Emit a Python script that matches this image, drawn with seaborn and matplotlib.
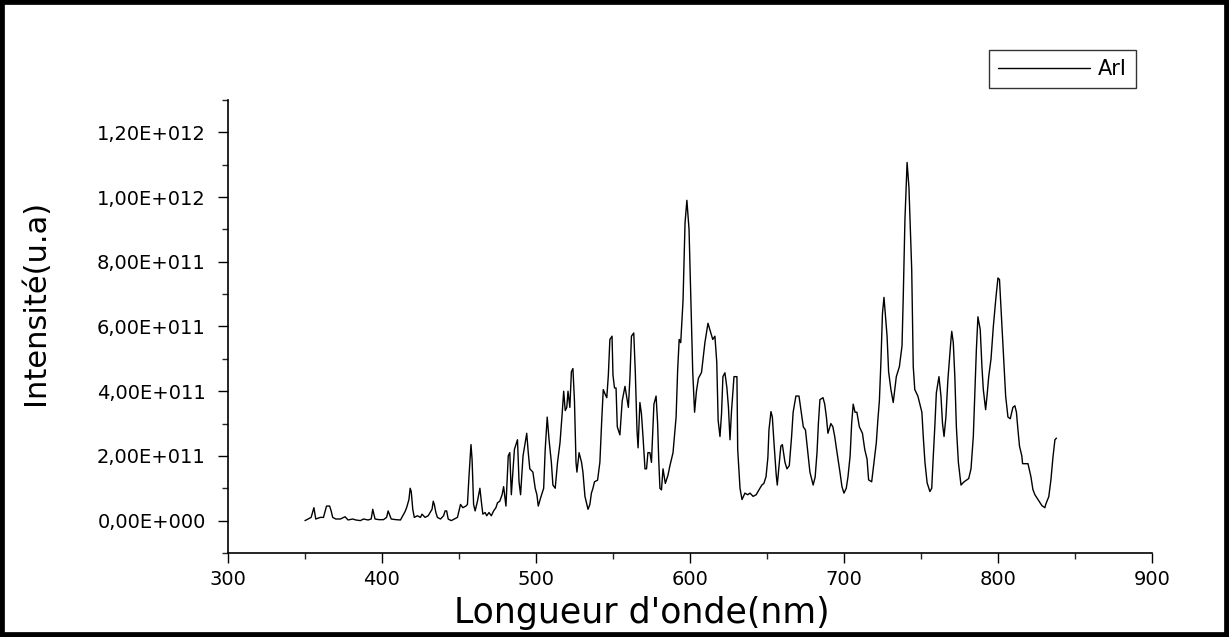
import numpy as np
import pandas as pd
import matplotlib
matplotlib.use("Agg")
import matplotlib.pyplot as plt
from matplotlib.ticker import MultipleLocator, FuncFormatter
from matplotlib.patches import Rectangle
import seaborn as sns

# spectrum (intensity in units of 1e11)
wavelength = [
    350, 352, 354, 355.8, 357, 360, 362, 364, 366, 367, 368, 370, 373, 376, 378,
    381, 383, 386, 388, 391, 393, 394, 395.5, 398, 401, 403, 404, 406, 409, 412,
    415, 416, 417.5, 418.3, 419, 420, 421, 423, 425, 426, 428, 430, 432.5, 433.3,
    434, 435, 436, 438, 440, 441, 442, 443, 445, 447, 449, 450, 451, 452.5, 454.5,
    455.5, 456.5, 457.8, 458.5, 459.5, 460.5, 462, 463.6, 464.5, 465.5, 467, 468,
    469.5, 471, 472.5, 474, 475, 476.5, 478, 479, 480.5, 482, 483, 484, 486, 488,
    489, 490, 491.6, 494, 495, 496, 498, 499.5, 500.6, 501.5, 503, 505, 506, 507.3,
    508.5, 510, 511, 512.5, 514, 515.6, 517, 518, 519, 520, 520.8, 522, 523, 524,
    525, 526, 526.6, 528, 529.6, 530.5, 531.8, 533.8, 535, 536, 537, 538, 540,
    541.5, 542.8, 543.7, 545, 546, 547, 548, 549.4, 550, 551, 552, 552.8, 554.5,
    556, 557.8, 559, 560, 561, 562, 563.5, 564.5, 565.6, 566.3, 567.5, 568.5,
    569.5, 570.8, 571.8, 572.7, 574, 575, 576.6, 578, 579, 579.7, 580.5, 581.5,
    582.5, 584, 585.7, 587, 589, 591, 592, 593, 594, 595.5, 596.8, 598, 599.4,
    600.6, 601.8, 603, 604.2, 605.5, 607.5, 609.7, 611.7, 613.6, 614.8, 616.2,
    617.4, 618.3, 619.5, 620.5, 621.4, 622.7, 624, 625, 626, 627, 628.6, 630.5,
    631, 632.5, 633.8, 635.7, 637.5, 639, 641, 643, 644.8, 646.7, 648, 649.4,
    650.6, 651.3, 652.6, 653.5, 654.5, 656, 656.7, 657.8, 659, 660, 661.7, 663,
    664.5, 666, 667, 668.8, 670.8, 672.7, 673.6, 675, 676.6, 677.9, 680, 681.3,
    682.5, 683.4, 684.4, 686.4, 687.5, 688.6, 689.6, 691.5, 692.8, 694, 695.2,
    697.4, 698.7, 700, 701.5, 702.6, 704, 705, 706, 707.2, 708.4, 710, 712, 713.5,
    715, 716, 718, 719, 721, 722, 723, 724, 725, 726, 727, 728, 729, 730.5, 732,
    734, 736, 737.7, 738.5, 739.6, 741, 742.2, 744, 745, 746, 748, 750.6, 751.5,
    752.6, 754, 755.8, 757, 757.8, 759, 760, 761.7, 763, 764, 765, 766.2, 767.5,
    769.5, 770, 771, 772, 773, 774.3, 776, 778, 781, 782.5, 784, 785, 786, 787,
    788.5, 789.6, 790.5, 792, 793, 794, 795.5, 797, 798.7, 800, 801, 802.6, 804,
    805, 806.5, 808, 809.7, 811, 812, 813, 814, 815.5, 816, 819.5, 821.4, 822.7,
    824, 826, 828.6, 830.5, 831, 833, 834.4, 835.7, 837, 838,
]
intensity_e11 = [
    0.0, 0.05, 0.1, 0.4, 0.05, 0.1, 0.1, 0.45, 0.45, 0.3, 0.1, 0.05, 0.05, 0.12, 0.02,
    0.05, 0.02, 0.0, 0.05, 0.02, 0.05, 0.35, 0.05, 0.03, 0.03, 0.1, 0.3, 0.05, 0.03, 0.02,
    0.28, 0.4, 0.65, 1.0, 0.9, 0.35, 0.1, 0.15, 0.1, 0.2, 0.1, 0.15, 0.35, 0.6,
    0.5, 0.25, 0.1, 0.05, 0.15, 0.3, 0.3, 0.05, 0.0, 0.05, 0.1, 0.3, 0.5, 0.4, 0.45,
    0.5, 1.36, 2.35, 1.9, 0.5, 0.3, 0.6, 1.0, 0.6, 0.2, 0.25, 0.15,
    0.25, 0.15, 0.3, 0.4, 0.55, 0.6, 0.8, 1.05, 0.45, 2.0, 2.1, 0.8, 2.2, 2.5,
    1.2, 0.8, 2.0, 2.7, 2.1, 1.6, 1.5, 1.0, 0.8, 0.45, 0.7, 1.0, 2.2, 3.2,
    2.5, 1.8, 1.1, 1.0, 1.8, 2.4, 3.3, 4.0, 3.4, 3.5, 4.0, 3.5, 4.6, 4.7,
    3.7, 1.8, 1.5, 2.1, 1.8, 1.5, 0.75, 0.35, 0.5, 0.85, 1.0, 1.2, 1.25,
    1.8, 3.2, 4.05, 3.9, 3.8, 4.5, 5.6, 5.7, 4.5, 4.1, 4.1, 2.9, 2.65,
    3.7, 4.15, 3.8, 3.5, 4.4, 5.7, 5.8, 4.6, 2.8, 2.25, 3.65, 3.3,
    2.6, 1.6, 1.6, 2.1, 2.1, 1.8, 3.6, 3.85, 3.0, 1.9, 1.0, 0.95,
    1.6, 1.15, 1.4, 1.7, 2.1, 3.2, 4.65, 5.6, 5.5, 6.8, 9.2, 9.9, 9.0,
    6.75, 4.6, 3.35, 4.0, 4.4, 4.58, 5.5, 6.1, 5.8, 5.6, 5.7,
    4.9, 3.1, 2.6, 3.3, 4.45, 4.57, 4.1, 3.5, 2.5, 3.4, 4.45, 4.45,
    2.2, 1.0, 0.65, 0.85, 0.8, 0.85, 0.75, 0.8, 0.95, 1.1, 1.15, 1.36,
    1.95, 2.8, 3.37, 3.2, 2.45, 1.42, 1.1, 1.67, 2.3, 2.35, 1.8, 1.6,
    1.7, 2.6, 3.35, 3.85, 3.85, 3.2, 2.9, 2.8, 2.1, 1.5, 1.1, 1.35,
    2.1, 3.0, 3.74, 3.8, 3.6, 3.2, 2.7, 3.0, 2.9, 2.6, 2.2,
    1.5, 1.05, 0.85, 1.0, 1.35, 2.0, 3.0, 3.6, 3.35, 3.35, 2.9, 2.7, 2.2,
    1.9, 1.26, 1.2, 1.6, 2.4, 3.1, 3.7, 4.9, 6.4, 6.9, 6.3, 5.7, 4.6, 4.05, 3.65,
    4.45, 4.76, 5.4, 6.9, 9.3, 11.07, 10.3, 7.76, 4.76, 4.05, 3.85, 3.35, 2.6,
    1.8, 1.17, 0.9, 1.0, 1.8, 2.9, 3.95, 4.45, 3.85, 3.0, 2.6, 3.2, 4.36,
    5.6, 5.85, 5.5, 4.45, 2.9, 1.8, 1.1, 1.2, 1.3, 1.6, 2.6, 3.95, 5.3, 6.3,
    5.9, 4.76, 4.05, 3.43, 3.9, 4.45, 5.0, 6.0, 6.9, 7.5, 7.45, 6.0, 4.67,
    3.85, 3.2, 3.15, 3.5, 3.55, 3.35, 2.8, 2.3, 2.0, 1.76, 1.76, 1.36, 0.96,
    0.8, 0.65, 0.46, 0.4, 0.5, 0.74, 1.26, 1.95, 2.5, 2.55,
]
series_name = "ArI"

df = pd.DataFrame({
    "wavelength": wavelength,
    "intensity": np.array(intensity_e11) * 1e11,
    "serie": series_name,
})


def sci_fr(v, pos):
    # Origin style: 1,20E+012
    if v == 0:
        return "0,00E+000"
    exp = int(np.floor(np.log10(abs(v))))
    mant = v / 10 ** exp
    return f"{mant:.2f}".replace(".", ",") + f"E+{exp:03d}"


sns.set_style("ticks")
plt.rcParams["font.family"] = ["DejaVu Sans"]
plt.rcParams["text.color"] = "black"
plt.rcParams["axes.labelcolor"] = "black"

fig = plt.figure(figsize=(12.29, 6.37), dpi=100)
ax = fig.add_axes([0.1855, 0.1319, 0.7518, 0.7111])

sns.lineplot(data=df, x="wavelength", y="intensity", hue="serie",
             palette=["black"], linewidth=1.0, ax=ax, legend=False)

ax.set_xlim(300, 900)
ax.set_ylim(-1e11, 1.3e12)
ax.xaxis.set_major_locator(MultipleLocator(100))
ax.xaxis.set_minor_locator(MultipleLocator(50))
ax.yaxis.set_major_locator(MultipleLocator(2e11))
ax.yaxis.set_minor_locator(MultipleLocator(1e11))
ax.yaxis.set_major_formatter(FuncFormatter(sci_fr))
ax.yaxis.get_offset_text().set_visible(False)

ax.tick_params(axis="both", which="major", direction="out", length=7, width=1,
               labelsize=14, colors="black")
ax.tick_params(axis="both", which="minor", direction="out", length=4, width=1)
ax.tick_params(axis="x", pad=5)
ax.tick_params(axis="y", pad=9)
sns.despine(ax=ax)
for s in ["left", "bottom"]:
    ax.spines[s].set_linewidth(1.2)
    ax.spines[s].set_color("black")

ax.set_xlabel("Longueur d'onde(nm)", fontsize=25)
ax.xaxis.set_label_coords(0.448, -0.095)
ax.set_ylabel("Intensité(u.a)", fontsize=22)
ax.yaxis.set_label_coords(-0.193, 0.554)

# legend sits above the plot area, top right
ax.plot([], [], color="black", linewidth=1.0, label=series_name)
leg = ax.legend(loc="upper right", bbox_to_anchor=(0.983, 1.111), frameon=True,
                fancybox=False, edgecolor="black", fontsize=15,
                handlelength=4.4, borderpad=0.45, handletextpad=0.4,
                borderaxespad=0)
leg.get_frame().set_linewidth(1.0)
for t in leg.get_texts():
    t.set_color("black")

# thick frame around the whole picture
fig.patches.append(Rectangle((0, 0), 1, 1, transform=fig.transFigure, fill=False,
                             edgecolor="black", linewidth=7))

fig.savefig("out.png", dpi=100, facecolor="white")
